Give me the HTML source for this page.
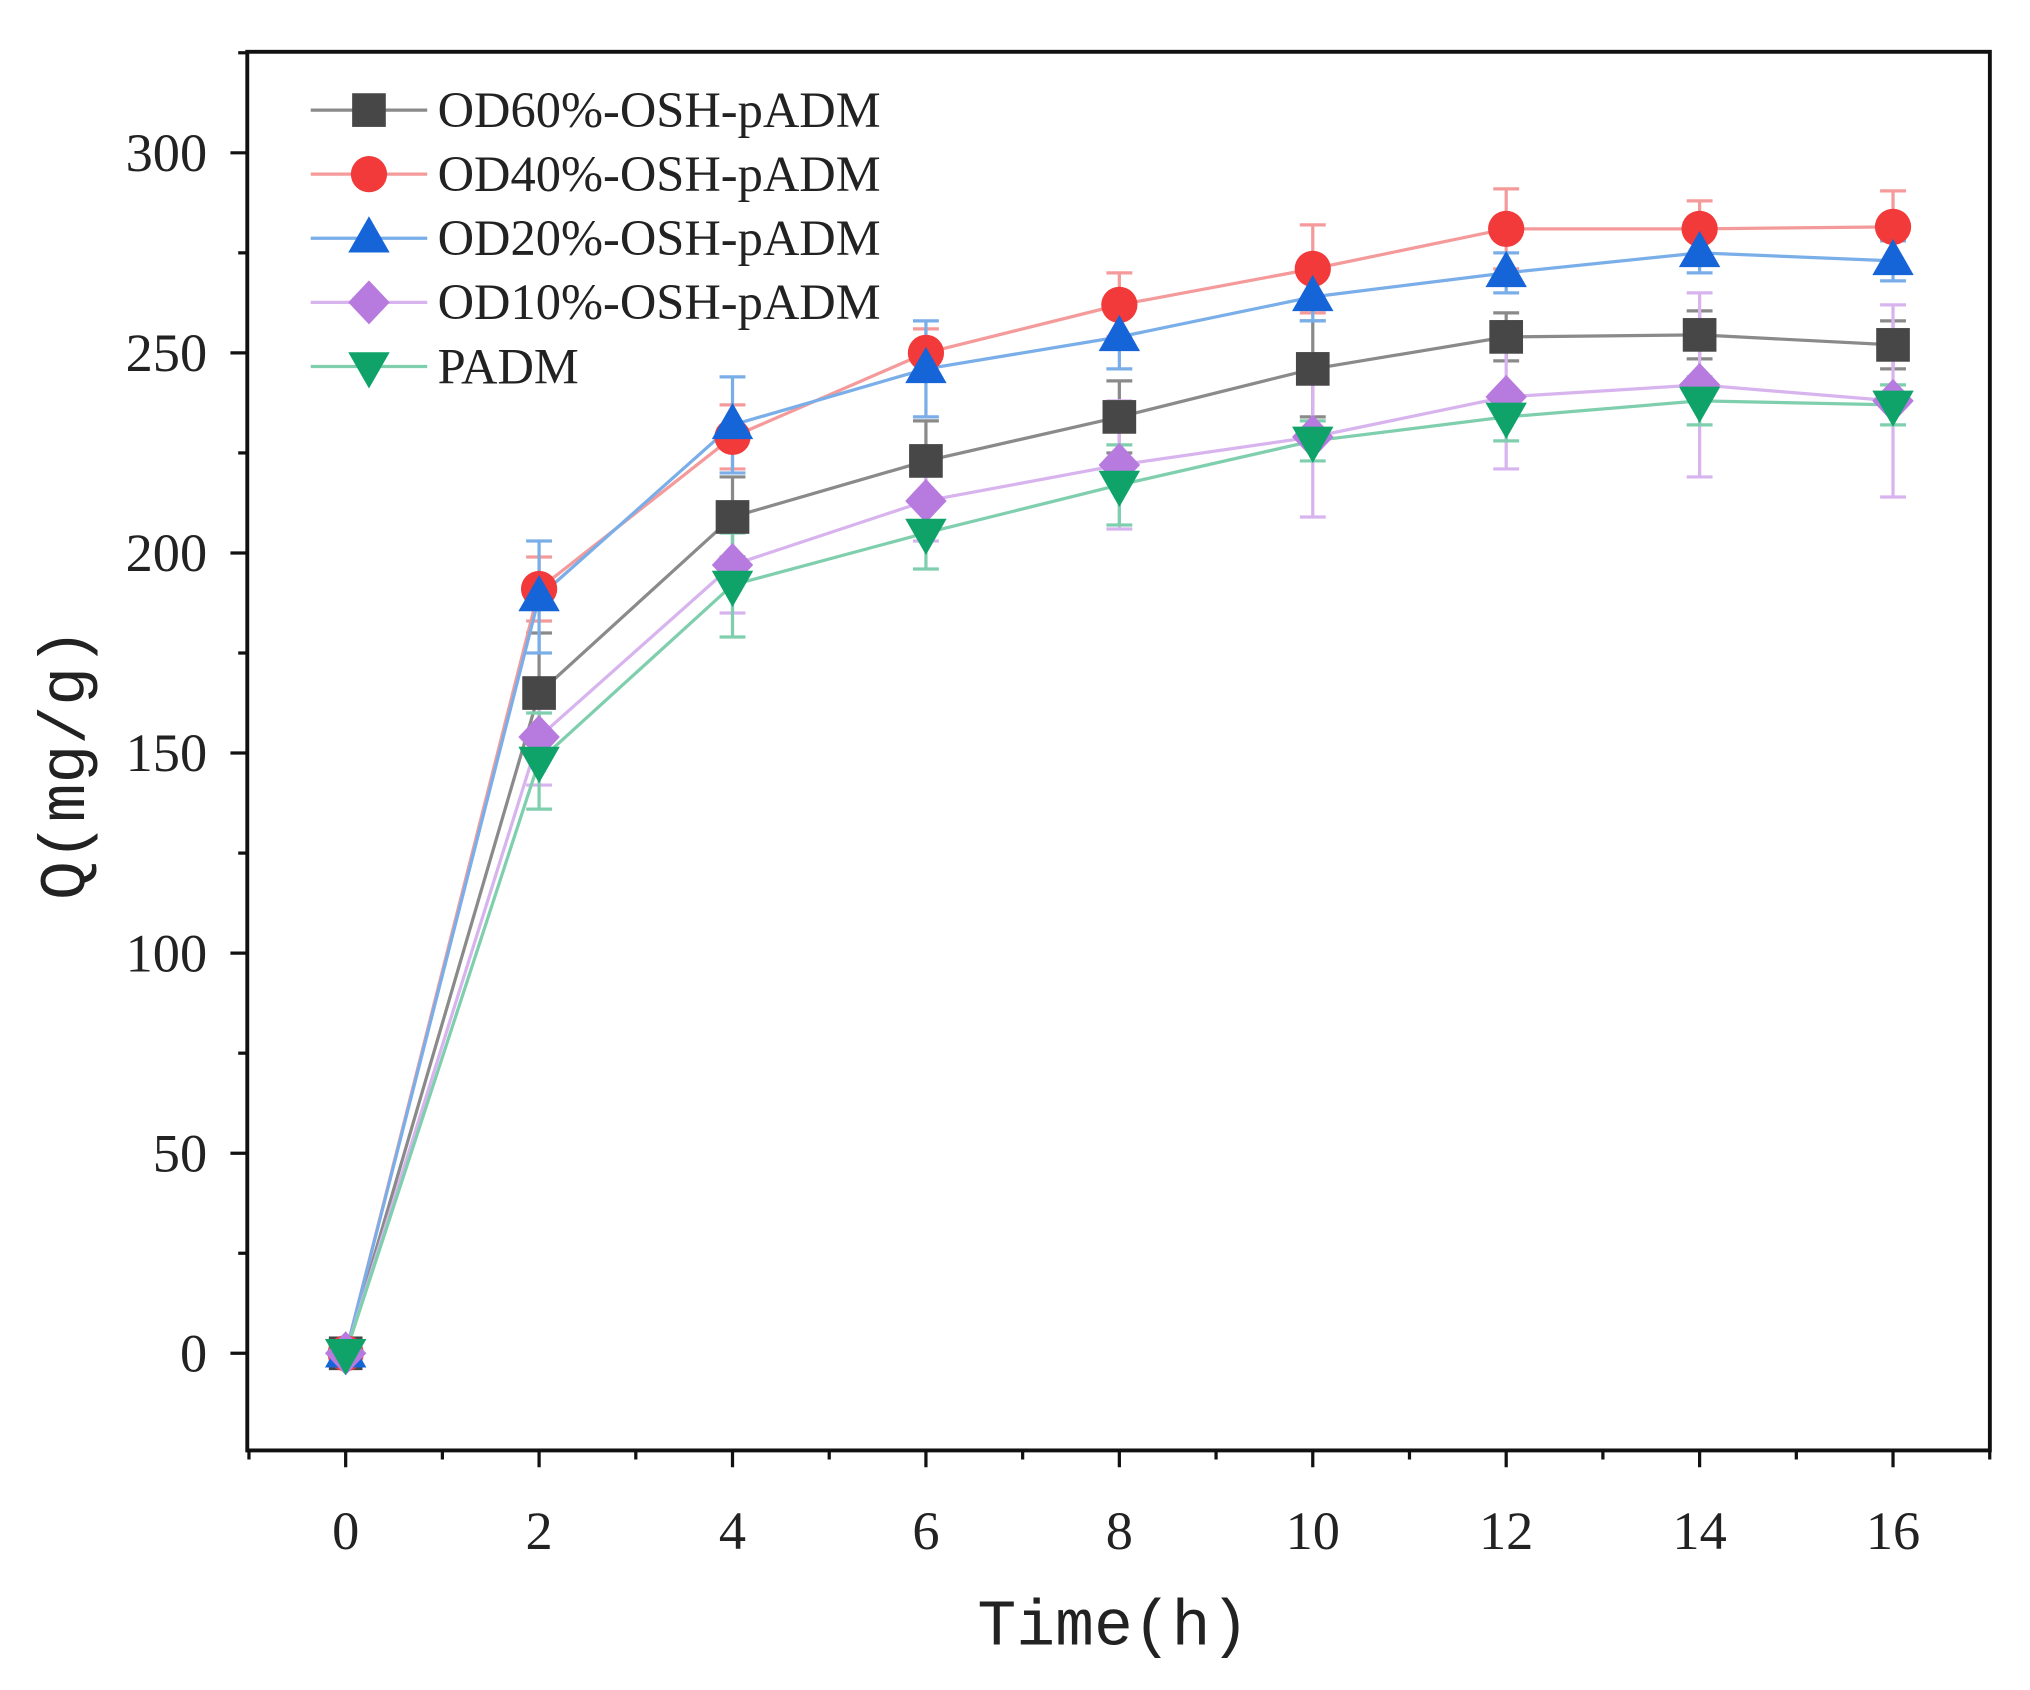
<!DOCTYPE html>
<html><head><meta charset="utf-8"><style>
html,body{margin:0;padding:0;background:#fff;}
svg{display:block;}
</style></head><body>
<svg id="s" width="2030" height="1690" viewBox="0 0 1568 1305" preserveAspectRatio="none" xmlns="http://www.w3.org/2000/svg" font-family="'Liberation Serif', serif">
<rect x="0" y="0" width="1568" height="1305" fill="#fff"/>
<g id="g"></g>
</svg>
<script>
const g=document.getElementById('g');
const X=v=>267+v*74.7, Y=v=>1045-v*3.09;
let h='';
h+='<rect x="191" y="40" width="1346" height="1080" fill="none" stroke="#111" stroke-width="3"/>';
for(let v=-25;v<=325;v+=25){const y=Y(v);if(y<40||y>1120)continue;const maj=v%50==0;
h+=`<line x1="${maj?178:184}" y1="${y}" x2="191" y2="${y}" stroke="#111" stroke-width="2.5"/>`;
if(maj)h+=`<text x="160" y="${y+14}" font-size="42" text-anchor="end" fill="#222">${v}</text>`;}
for(let v=-1;v<=17;v++){const x=X(v);if(x<190||x>1538)continue;const maj=v%2==0;
h+=`<line x1="${x}" y1="1120" x2="${x}" y2="${maj?1133:1127}" stroke="#111" stroke-width="2.5"/>`;
if(maj&&v>=0&&v<=16)h+=`<text x="${x}" y="1196" font-size="42" text-anchor="middle" fill="#222">${v}</text>`;}
h+=`<text x="860" y="1270" font-size="50" text-anchor="middle" font-family="'Liberation Mono',monospace" fill="#222">Time(h)</text>`;
h+=`<text transform="translate(65,590) rotate(-90)" font-size="50" text-anchor="middle" font-family="'Liberation Mono',monospace" fill="#222">Q(mg/g)</text>`;
const S=[
{n:'OD60%-OSH-pADM',c:'#474747',l:'#8a8a8a',m:'sq',d:[0,165,209,223,234,246,254,254.5,252],e:[0,15,10,10,9,12,6,6,6]},
{n:'OD40%-OSH-pADM',c:'#f23a3a',l:'#f59a9a',m:'ci',d:[0,191,229,250,262,271,281,281,281.5],e:[0,8,8,6,8,11,10,7,9]},
{n:'OD20%-OSH-pADM',c:'#1565d8',l:'#7aaee8',m:'tu',d:[0,189,232,246,254,264,270,275,273],e:[0,14,12,12,8,6,5,5,5]},
{n:'OD10%-OSH-pADM',c:'#b77be0',l:'#d8b4ef',m:'di',d:[0,154,197,213,222,229,239,242,238],e:[0,12,12,10,16,20,18,23,24]},
{n:'PADM',c:'#0fa36a',l:'#7fcfae',m:'td',d:[0,148,192,205,217,228,234,238,237],e:[0,12,13,9,10,5,6,6,5]}];
function mk(m,x,y,c){const r=13;
if(m=='sq')return `<rect x="${x-r}" y="${y-r}" width="${2*r}" height="${2*r}" fill="${c}"/>`;
if(m=='ci')return `<circle cx="${x}" cy="${y}" r="${r+1}" fill="${c}"/>`;
if(m=='tu')return `<polygon points="${x},${y-17} ${x-16},${y+11} ${x+16},${y+11}" fill="${c}"/>`;
if(m=='td')return `<polygon points="${x},${y+17} ${x-16},${y-11} ${x+16},${y-11}" fill="${c}"/>`;
return `<polygon points="${x},${y-17} ${x+16},${y} ${x},${y+17} ${x-16},${y}" fill="${c}"/>`;}
S.forEach(s=>{h+=`<polyline fill="none" stroke="${s.l}" stroke-width="2.5" points="${s.d.map((v,i)=>X(2*i)+','+Y(v)).join(' ')}"/>`;
s.d.forEach((v,i)=>{if(!s.e[i])return;const x=X(2*i),a=Y(v+s.e[i]),b=Y(v-s.e[i]);
h+=`<g stroke="${s.l}" stroke-width="2.5"><line x1="${x}" y1="${a}" x2="${x}" y2="${b}"/><line x1="${x-10}" y1="${a}" x2="${x+10}" y2="${a}"/><line x1="${x-10}" y1="${b}" x2="${x+10}" y2="${b}"/></g>`;});});
S.forEach(s=>s.d.forEach((v,i)=>h+=mk(s.m,X(2*i),Y(v),s.c)));
S.forEach((s,i)=>{const y=85+i*49.5;
h+=`<line x1="240" y1="${y}" x2="330" y2="${y}" stroke="${s.l}" stroke-width="2.5"/>`+mk(s.m,285,y,s.c)+
`<text x="338" y="${y+13}" font-size="39" fill="#222">${s.n}</text>`;});
g.innerHTML=h;
</script>
</body></html>
